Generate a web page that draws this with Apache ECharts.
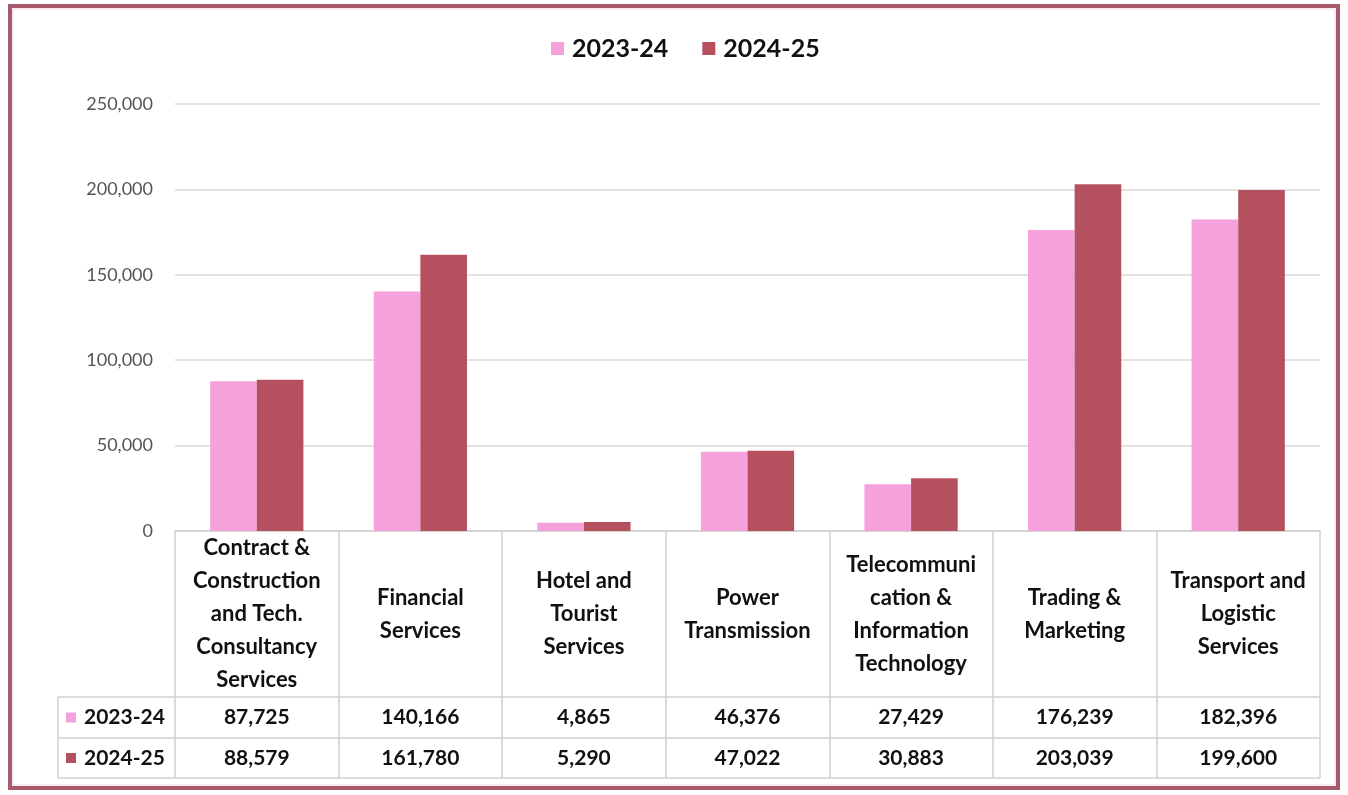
<!DOCTYPE html>
<html><head><meta charset="utf-8">
<script src="https://cdn.jsdelivr.net/npm/echarts@6/dist/echarts.min.js"></script>
<style>html,body{margin:0;padding:0;background:#fff}#c{width:1348px;height:795px}</style>
</head><body><div id="c"></div>
<script>
var categories = ["Contract &\nConstruction\nand Tech.\nConsultancy\nServices","Financial\nServices","Hotel and\nTourist\nServices","Power\nTransmission","Telecommuni\ncation &\nInformation\nTechnology","Trading &\nMarketing","Transport and\nLogistic\nServices"];
var series2324 = [87725,140166,4865,46376,27429,176239,182396];
var series2425 = [88579,161780,5290,47022,30883,203039,199600];
var seriesNames = ["2023-24","2024-25"];
var yTicks = {min:0,max:250000,interval:50000};

var C1 = "#F5A2DC", C2 = "#B5505F";
var FONT = "Lato";
var fmt = function(v){return v.toLocaleString('en-US');};
var GL=175, GR=28, GT=104, GB=264;
var W=1348, H=795;
var plotRight = W-GR, axisY = H-GB;
var rowY = [697,738,778];
var tableLeft = 58;
var lineCol = "#d0d0d0";

var chart = echarts.init(document.getElementById('c'));
function extraAxis(vals, margin){
  return {type:'category',data:vals.map(fmt),position:'bottom',gridIndex:0,
    axisLine:{show:false},axisTick:{show:false},splitLine:{show:false},
    axisLabel:{interval:0,margin:margin,verticalAlign:'middle',fontFamily:FONT,fontWeight:'bold',fontSize:21,color:'#111'}};
}
var graphics = [
  {type:'rect',shape:{x:10,y:6,width:1328,height:782},style:{fill:'none',stroke:'#A85A6C',lineWidth:4},z:10},
  {type:'rect',shape:{x:13,y:9,width:1322,height:776},style:{fill:'none',stroke:'#f6d6e0',lineWidth:1},z:10}
];
rowY.forEach(function(y){
  graphics.push({type:'line',shape:{x1:tableLeft,y1:y,x2:plotRight,y2:y},style:{stroke:lineCol,lineWidth:1.5},z:5});
});
graphics.push({type:'line',shape:{x1:tableLeft,y1:rowY[0],x2:tableLeft,y2:rowY[2]},style:{stroke:lineCol,lineWidth:1.5},z:5});
[C1,C2].forEach(function(col,i){
  var cy=(rowY[i]+rowY[i+1])/2;
  graphics.push({type:'rect',shape:{x:66,y:cy-5,width:10,height:10},style:{fill:col},z:6});
  graphics.push({type:'text',x:84,y:cy,style:{text:seriesNames[i],font:'bold 21px '+FONT,fill:'#111',verticalAlign:'middle'},z:6});
});

chart.setOption({
  animation:false,
  backgroundColor:'#fff',
  color:[C1,C2],
  legend:{top:31,left:546,itemWidth:13,itemHeight:13,itemGap:34,icon:'rect',
    textStyle:{fontFamily:FONT,fontWeight:'bold',fontSize:25,color:'#111',padding:[0,0,0,3]}},
  grid:{left:GL,right:GR,top:GT,bottom:GB,containLabel:false},
  xAxis:[
    {type:'category',data:categories,position:'bottom',
      axisLine:{show:true,lineStyle:{color:lineCol,width:1.5}},
      axisTick:{show:true,length:rowY[2]-axisY,lineStyle:{color:lineCol,width:1.5}},
      axisLabel:{interval:0,margin:83,verticalAlign:'middle',lineHeight:33,fontFamily:FONT,fontWeight:'bold',fontSize:22,color:'#111'}},
    extraAxis(series2324,(rowY[0]+rowY[1])/2-axisY),
    extraAxis(series2425,(rowY[1]+rowY[2])/2-axisY)
  ],
  yAxis:{type:'value',min:yTicks.min,max:yTicks.max,interval:yTicks.interval,
    axisLine:{show:false},axisTick:{show:false},
    splitLine:{lineStyle:{color:'#d9d9d9',width:1.5}},
    axisLabel:{margin:22,fontFamily:FONT,fontSize:18,color:'#555',formatter:function(v){return fmt(v);}}},
  series:[
    {name:seriesNames[0],type:'bar',data:series2324,barGap:'0%',barCategoryGap:'43%',itemStyle:{color:C1}},
    {name:seriesNames[1],type:'bar',data:series2425,itemStyle:{color:C2}}
  ],
  graphic:graphics
});
</script></body></html>
